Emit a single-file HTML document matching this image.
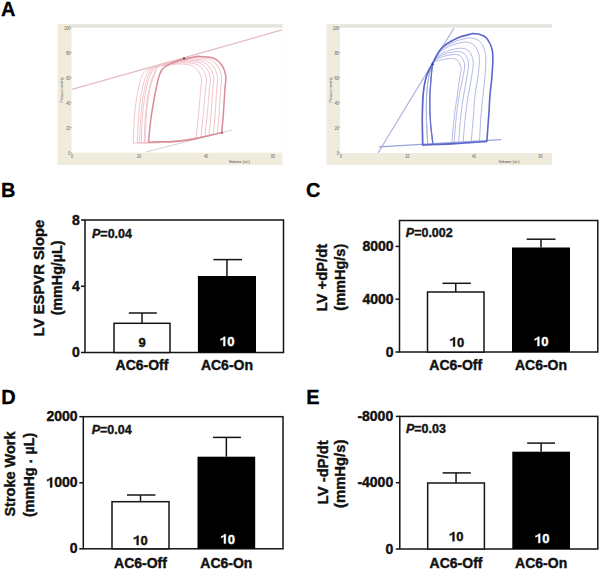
<!DOCTYPE html>
<html><head><meta charset="utf-8"><style>
html,body{margin:0;padding:0;background:#fff;}
svg{display:block;}
text{font-family:"Liberation Sans", sans-serif;}
</style></head><body>
<svg width="600" height="569" viewBox="0 0 600 569">
<rect width="600" height="569" fill="#fff"/>
<rect x="57.5" y="24" width="225.0" height="141" fill="#efecdd"/>
<rect x="71.5" y="24" width="211.0" height="3.5" fill="#e8e8e1"/>
<rect x="71.5" y="26.5" width="211.0" height="1" fill="#d9d9d1"/>
<rect x="71.5" y="27.5" width="211.0" height="125.19999999999999" fill="#fff"/>
<rect x="326.5" y="24" width="225.5" height="141" fill="#efecdd"/>
<rect x="340" y="24" width="212" height="3.5" fill="#e8e8e1"/>
<rect x="340" y="26.5" width="212" height="1" fill="#d9d9d1"/>
<rect x="340" y="27.5" width="212" height="125.5" fill="#fff"/>
<line x1="70.3" y1="27.6" x2="71.8" y2="27.6" stroke="#999" stroke-width="0.7"/>
<text x="70.2" y="29.6" font-size="5.6" text-anchor="end" fill="#5a5a55" textLength="6.0" lengthAdjust="spacingAndGlyphs">100</text>
<line x1="70.3" y1="52.6" x2="71.8" y2="52.6" stroke="#999" stroke-width="0.7"/>
<text x="70.2" y="54.6" font-size="5.6" text-anchor="end" fill="#5a5a55" textLength="4.0" lengthAdjust="spacingAndGlyphs">80</text>
<line x1="70.3" y1="77.6" x2="71.8" y2="77.6" stroke="#999" stroke-width="0.7"/>
<text x="70.2" y="79.6" font-size="5.6" text-anchor="end" fill="#5a5a55" textLength="4.0" lengthAdjust="spacingAndGlyphs">60</text>
<line x1="70.3" y1="102.6" x2="71.8" y2="102.6" stroke="#999" stroke-width="0.7"/>
<text x="70.2" y="104.6" font-size="5.6" text-anchor="end" fill="#5a5a55" textLength="4.0" lengthAdjust="spacingAndGlyphs">40</text>
<line x1="70.3" y1="127.6" x2="71.8" y2="127.6" stroke="#999" stroke-width="0.7"/>
<text x="70.2" y="129.6" font-size="5.6" text-anchor="end" fill="#5a5a55" textLength="4.0" lengthAdjust="spacingAndGlyphs">20</text>
<line x1="70.3" y1="152.6" x2="71.8" y2="152.6" stroke="#999" stroke-width="0.7"/>
<text x="70.2" y="154.6" font-size="5.6" text-anchor="end" fill="#5a5a55" textLength="2.0" lengthAdjust="spacingAndGlyphs">0</text>
<text x="72" y="158.0" font-size="5.6" text-anchor="middle" fill="#5a5a55" textLength="2.0" lengthAdjust="spacingAndGlyphs">0</text>
<text x="139" y="158.0" font-size="5.6" text-anchor="middle" fill="#5a5a55" textLength="4.0" lengthAdjust="spacingAndGlyphs">20</text>
<text x="206" y="158.0" font-size="5.6" text-anchor="middle" fill="#5a5a55" textLength="4.0" lengthAdjust="spacingAndGlyphs">40</text>
<text x="273" y="158.0" font-size="5.6" text-anchor="middle" fill="#5a5a55" textLength="4.0" lengthAdjust="spacingAndGlyphs">60</text>
<text transform="translate(62.5,90) rotate(-90)" font-size="3.8" text-anchor="middle" fill="#555" textLength="25" lengthAdjust="spacingAndGlyphs">Pressure mmHg</text>
<text x="239.2" y="163.3" font-size="4.2" text-anchor="middle" fill="#444" textLength="21" lengthAdjust="spacingAndGlyphs">Volume (uL)</text>
<line x1="338.8" y1="27.6" x2="340.3" y2="27.6" stroke="#999" stroke-width="0.7"/>
<text x="338.7" y="29.6" font-size="5.6" text-anchor="end" fill="#5a5a55" textLength="6.0" lengthAdjust="spacingAndGlyphs">100</text>
<line x1="338.8" y1="52.6" x2="340.3" y2="52.6" stroke="#999" stroke-width="0.7"/>
<text x="338.7" y="54.6" font-size="5.6" text-anchor="end" fill="#5a5a55" textLength="4.0" lengthAdjust="spacingAndGlyphs">80</text>
<line x1="338.8" y1="77.6" x2="340.3" y2="77.6" stroke="#999" stroke-width="0.7"/>
<text x="338.7" y="79.6" font-size="5.6" text-anchor="end" fill="#5a5a55" textLength="4.0" lengthAdjust="spacingAndGlyphs">60</text>
<line x1="338.8" y1="102.6" x2="340.3" y2="102.6" stroke="#999" stroke-width="0.7"/>
<text x="338.7" y="104.6" font-size="5.6" text-anchor="end" fill="#5a5a55" textLength="4.0" lengthAdjust="spacingAndGlyphs">40</text>
<line x1="338.8" y1="127.6" x2="340.3" y2="127.6" stroke="#999" stroke-width="0.7"/>
<text x="338.7" y="129.6" font-size="5.6" text-anchor="end" fill="#5a5a55" textLength="4.0" lengthAdjust="spacingAndGlyphs">20</text>
<line x1="338.8" y1="152.6" x2="340.3" y2="152.6" stroke="#999" stroke-width="0.7"/>
<text x="338.7" y="154.6" font-size="5.6" text-anchor="end" fill="#5a5a55" textLength="2.0" lengthAdjust="spacingAndGlyphs">0</text>
<text x="341" y="158.3" font-size="5.6" text-anchor="middle" fill="#5a5a55" textLength="2.0" lengthAdjust="spacingAndGlyphs">0</text>
<text x="407.5" y="158.3" font-size="5.6" text-anchor="middle" fill="#5a5a55" textLength="4.0" lengthAdjust="spacingAndGlyphs">20</text>
<text x="474" y="158.3" font-size="5.6" text-anchor="middle" fill="#5a5a55" textLength="4.0" lengthAdjust="spacingAndGlyphs">40</text>
<text x="540.5" y="158.3" font-size="5.6" text-anchor="middle" fill="#5a5a55" textLength="4.0" lengthAdjust="spacingAndGlyphs">60</text>
<text transform="translate(331.7,90) rotate(-90)" font-size="3.8" text-anchor="middle" fill="#555" textLength="25" lengthAdjust="spacingAndGlyphs">Pressure mmHg</text>
<text x="509" y="163.3" font-size="4.2" text-anchor="middle" fill="#444" textLength="21" lengthAdjust="spacingAndGlyphs">Volume (uL)</text>
<line x1="72" y1="89.4" x2="282" y2="29.9" stroke="#e2bcc1" stroke-width="1.2"/>
<line x1="146" y1="152" x2="232" y2="130" stroke="#dcccd0" stroke-width="1"/>
<line x1="378" y1="153" x2="454" y2="28" stroke="#aab0de" stroke-width="1.2"/>
<line x1="379" y1="146.8" x2="501" y2="139.6" stroke="#9aa2dc" stroke-width="1.3"/>
<g fill="none" stroke-linejoin="round" stroke-linecap="round">
<path d="M133.30,142.91 C143.75,142.73 154.22,143.13 164.64,142.36 C175.11,141.58 185.54,139.62 195.99,138.25 C196.74,131.50 197.59,124.55 198.24,118.00 C198.85,111.83 199.33,105.39 199.80,100.00 C200.18,95.60 200.52,91.64 200.84,88.00 C201.10,84.95 201.96,82.38 201.57,79.60 C201.16,76.67 199.97,73.27 198.25,70.88 C196.60,68.59 194.42,66.63 191.62,65.43 C188.12,63.93 182.78,64.34 178.37,63.80 C171.48,64.67 161.89,65.64 157.71,66.40 C155.87,66.73 155.08,67.02 153.76,67.34 C152.44,67.65 151.12,67.96 149.80,68.27 C148.37,69.25 146.71,70.17 145.50,71.21 C144.47,72.09 143.69,72.73 142.90,74.00 C141.72,75.90 140.83,78.75 139.90,82.00 C138.54,86.76 137.24,93.82 136.30,100.00 C135.32,106.47 134.70,113.10 134.20,120.00 C133.67,127.37 133.60,135.28 133.30,142.91 Z" stroke="#efc3c9" stroke-width="0.95"/>
<path d="M137.30,142.83 C147.89,142.58 158.52,142.98 169.08,142.07 C179.70,141.16 190.27,138.92 200.86,137.35 C201.59,130.90 202.41,124.34 203.04,118.00 C203.65,111.90 204.13,105.39 204.60,100.00 C204.98,95.60 205.32,91.72 205.64,88.00 C205.92,84.77 206.84,81.92 206.42,78.95 C206.00,75.88 204.77,72.38 202.99,69.90 C201.29,67.52 199.03,65.49 196.13,64.24 C192.51,62.68 186.99,63.11 182.42,62.55 C175.64,63.42 166.27,64.38 162.07,65.15 C160.16,65.50 159.31,65.81 157.93,66.14 C156.56,66.47 155.18,66.79 153.80,67.12 C152.37,68.10 150.67,68.87 149.50,70.06 C148.39,71.19 147.71,72.40 146.90,74.00 C145.80,76.15 144.83,78.75 143.90,82.00 C142.54,86.76 141.24,93.82 140.30,100.00 C139.32,106.47 138.70,113.10 138.20,120.00 C137.67,127.35 137.60,135.22 137.30,142.83 Z" stroke="#efc3c9" stroke-width="0.95"/>
<path d="M139.60,142.79 C150.47,142.47 161.38,142.85 172.22,141.82 C183.12,140.78 193.96,138.32 204.83,136.57 C205.53,130.38 206.32,124.14 206.94,118.00 C207.54,111.96 208.03,105.39 208.50,100.00 C208.88,95.60 209.21,91.79 209.54,88.00 C209.84,84.59 210.82,81.46 210.38,78.30 C209.94,75.09 208.67,71.49 206.83,68.92 C205.07,66.45 202.74,64.34 199.74,63.05 C196.01,61.44 190.30,61.88 185.58,61.30 C179.20,62.17 170.77,63.07 166.43,63.90 C164.14,64.34 162.98,64.75 161.26,65.18 C159.54,65.61 157.82,66.04 156.10,66.46 C154.67,67.44 152.95,68.15 151.80,69.40 C150.64,70.66 150.03,72.22 149.20,74.00 C148.14,76.27 147.13,78.75 146.20,82.00 C144.84,86.76 143.54,93.82 142.60,100.00 C141.62,106.47 141.00,113.11 140.50,120.00 C139.97,127.34 139.90,135.19 139.60,142.79 Z" stroke="#efc3c9" stroke-width="0.95"/>
<path d="M141.30,142.75 C152.56,142.36 163.86,142.72 175.08,141.56 C186.39,140.39 197.61,137.67 208.87,135.72 C209.48,129.81 210.17,123.93 210.71,118.00 C211.24,112.03 211.66,105.39 212.07,100.00 C212.40,95.60 212.68,91.85 212.97,88.00 C213.24,84.42 214.24,80.99 213.76,77.65 C213.28,74.31 211.99,70.60 210.09,67.93 C208.28,65.38 205.87,63.20 202.77,61.86 C198.92,60.20 193.03,60.65 188.16,60.05 C182.36,60.92 175.16,61.76 170.78,62.65 C168.08,63.20 166.45,63.76 164.29,64.31 C162.13,64.87 159.96,65.42 157.80,65.98 C156.37,66.95 154.64,67.62 153.50,68.91 C152.31,70.26 151.74,72.09 150.90,74.00 C149.87,76.34 148.83,78.75 147.90,82.00 C146.54,86.76 145.24,93.82 144.30,100.00 C143.32,106.47 142.70,113.11 142.20,120.00 C141.67,127.33 141.60,135.17 141.30,142.75 Z" stroke="#efc3c9" stroke-width="0.95"/>
<path d="M144.20,142.70 C155.72,142.19 167.28,142.50 178.75,141.19 C190.31,139.86 201.78,136.88 213.30,134.73 C213.82,129.15 214.42,123.68 214.87,118.00 C215.34,112.11 215.69,105.39 216.03,100.00 C216.32,95.60 216.55,91.91 216.81,88.00 C217.05,84.25 218.04,80.53 217.52,77.00 C217.00,73.52 215.70,69.71 213.74,66.95 C211.87,64.32 209.39,62.06 206.19,60.67 C202.22,58.95 196.14,59.42 191.12,58.80 C185.79,59.67 179.40,60.50 175.14,61.40 C172.24,62.01 170.32,62.65 167.92,63.27 C165.51,63.90 163.11,64.52 160.70,65.14 C159.27,66.12 157.52,66.72 156.40,68.08 C155.15,69.59 154.67,71.86 153.80,74.00 C152.80,76.45 151.73,78.75 150.80,82.00 C149.44,86.76 148.14,93.82 147.20,100.00 C146.22,106.47 145.60,113.11 145.10,120.00 C144.57,127.32 144.50,135.13 144.20,142.70 Z" stroke="#efc3c9" stroke-width="0.95"/>
<path d="M145.00,142.68 C157.04,142.09 169.14,142.39 181.13,140.92 C193.23,139.43 205.21,136.15 217.26,133.76 C217.76,128.51 218.34,123.43 218.77,118.00 C219.24,112.20 219.59,105.39 219.93,100.00 C220.22,95.60 220.45,91.97 220.71,88.00 C220.96,84.09 222.01,80.06 221.46,76.35 C220.92,72.73 219.59,68.82 217.57,65.97 C215.64,63.25 213.08,60.92 209.79,59.49 C205.69,57.71 199.43,58.20 194.26,57.55 C189.34,58.42 183.79,59.20 179.49,60.15 C176.11,60.89 173.49,61.74 170.50,62.53 C167.50,63.33 164.50,64.12 161.50,64.91 C160.07,65.89 158.32,66.48 157.20,67.85 C155.93,69.40 155.47,71.81 154.60,74.00 C153.61,76.48 152.53,78.75 151.60,82.00 C150.24,86.76 148.94,93.82 148.00,100.00 C147.02,106.47 146.40,113.12 145.90,120.00 C145.37,127.31 145.30,135.12 145.00,142.68 Z" stroke="#efc3c9" stroke-width="0.95"/>
<path d="M148.60,142.21 C160.77,141.61 173.01,141.99 185.11,140.42 C197.35,138.82 209.46,135.23 221.63,132.64 C222.11,127.76 222.65,123.14 223.07,118.00 C223.54,112.31 223.89,105.39 224.23,100.00 C224.52,95.60 224.75,92.02 225.01,88.00 C225.27,83.93 226.38,79.60 225.80,75.70 C225.24,71.94 223.88,67.93 221.80,64.99 C219.81,62.18 217.18,59.77 213.79,58.30 C209.57,56.47 203.13,56.97 197.80,56.30 C193.33,57.17 188.23,57.93 184.40,58.90 C181.46,59.64 179.20,60.40 176.70,61.30 C174.27,62.17 171.72,63.17 169.60,64.20 C167.78,65.09 166.09,65.89 164.70,67.00 C163.43,68.02 162.40,69.11 161.50,70.50 C160.48,72.08 159.78,74.09 159.10,76.10 C158.36,78.30 157.91,80.53 157.30,83.20 C156.52,86.63 155.64,91.13 154.90,95.00 C154.18,98.73 153.54,102.25 152.90,106.00 C152.24,109.91 151.55,113.99 151.00,118.00 C150.45,121.99 150.00,125.98 149.60,130.00 C149.20,134.05 148.93,138.14 148.60,142.21 Z" stroke="#db8a98" stroke-width="1.5"/>
<path d="M423.01,144.92 C427.81,144.79 432.61,144.80 437.41,144.54 C442.21,144.28 447.00,143.76 451.80,143.36 C452.70,133.91 453.49,123.62 454.50,115.00 C455.35,107.74 456.40,101.40 457.30,95.00 C458.13,89.10 458.96,82.55 459.70,78.00 C460.20,74.93 461.01,72.37 461.11,70.30 C461.18,68.91 461.06,67.95 460.83,66.80 C460.59,65.62 460.20,64.39 459.68,63.30 C459.17,62.24 458.58,61.09 457.77,60.35 C457.01,59.65 456.01,59.21 455.01,58.90 C453.98,58.58 452.78,58.63 451.67,58.50 C449.24,58.74 446.85,58.83 444.39,59.23 C441.80,59.66 438.65,60.16 436.53,61.02 C434.90,61.69 433.84,62.67 432.50,63.50 C430.60,67.60 428.24,71.33 426.79,75.80 C425.19,80.72 424.35,86.00 423.66,91.92 C422.82,99.03 422.76,107.30 422.63,115.62 C422.49,124.86 422.89,135.15 423.01,144.92 Z" stroke="#a2a8dc" stroke-width="0.8"/>
<path d="M427.75,144.66 C432.13,144.56 436.50,144.59 440.88,144.35 C445.25,144.12 449.62,143.61 454.00,143.24 C454.83,133.83 455.52,123.59 456.50,115.00 C457.33,107.75 458.22,101.38 459.30,95.00 C460.30,89.09 461.73,83.05 462.70,78.00 C463.47,73.96 464.57,69.77 464.70,67.07 C464.78,65.49 464.64,64.54 464.38,63.30 C464.11,62.04 463.67,60.72 463.08,59.55 C462.51,58.41 461.84,57.18 460.94,56.39 C460.08,55.63 458.95,55.16 457.84,54.83 C456.67,54.48 455.33,54.54 454.07,54.40 C451.34,54.85 448.63,55.01 445.88,55.74 C442.95,56.51 439.37,57.50 437.03,59.00 C435.11,60.22 434.01,62.00 432.50,63.50 C431.32,67.60 429.89,71.17 428.95,75.80 C427.78,81.57 427.03,88.65 426.60,95.55 C426.13,103.08 426.27,111.21 426.45,119.25 C426.64,127.58 427.32,136.19 427.75,144.66 Z" stroke="#a2a8dc" stroke-width="0.8"/>
<path d="M432.69,144.39 C437.00,144.30 441.30,144.33 445.60,144.10 C449.90,143.87 454.20,143.37 458.50,143.00 C459.33,133.67 460.04,123.54 461.00,115.00 C461.81,107.76 462.69,101.38 463.70,95.00 C464.64,89.09 465.94,83.23 466.80,78.00 C467.53,73.55 468.53,68.66 468.62,65.61 C468.68,63.84 468.56,62.78 468.27,61.39 C467.96,59.97 467.46,58.49 466.81,57.18 C466.17,55.90 465.42,54.52 464.40,53.63 C463.44,52.78 462.17,52.26 460.92,51.88 C459.62,51.49 458.11,51.56 456.70,51.40 C453.64,51.99 450.58,52.22 447.51,53.18 C444.20,54.20 440.18,55.58 437.58,57.51 C435.37,59.15 434.19,61.50 432.50,63.50 C432.07,67.60 431.61,71.04 431.21,75.80 C430.65,82.38 429.80,91.48 429.67,99.34 C429.54,107.23 429.90,115.36 430.43,123.04 C430.94,130.35 431.94,137.28 432.69,144.39 Z" stroke="#a2a8dc" stroke-width="0.8"/>
<path d="M422.81,144.93 C429.51,144.70 436.21,144.60 442.90,144.24 C449.61,143.88 456.30,143.25 463.00,142.76 C463.83,133.51 464.52,123.49 465.50,115.00 C466.33,107.78 467.27,101.39 468.30,95.00 C469.25,89.09 470.56,83.39 471.40,78.00 C472.16,73.15 473.14,67.54 473.22,64.12 C473.27,62.12 473.15,60.92 472.82,59.36 C472.48,57.76 471.92,56.09 471.18,54.62 C470.46,53.18 469.61,51.62 468.47,50.61 C467.38,49.66 465.95,49.07 464.54,48.64 C463.07,48.21 461.37,48.28 459.78,48.10 C456.33,48.85 452.86,49.16 449.42,50.36 C445.68,51.67 441.13,53.47 438.23,55.88 C435.69,57.98 434.41,60.96 432.50,63.50 C430.56,67.60 428.17,71.34 426.69,75.80 C425.08,80.68 424.24,85.88 423.53,91.76 C422.67,98.85 422.60,107.13 422.47,115.46 C422.31,124.74 422.69,135.10 422.81,144.93 Z" stroke="#a2a8dc" stroke-width="0.8"/>
<path d="M427.75,144.66 C434.99,144.40 442.24,144.28 449.48,143.89 C456.72,143.50 463.96,142.84 471.20,142.32 C471.97,133.21 472.83,123.40 473.50,115.00 C474.07,107.82 474.24,101.38 475.00,95.00 C475.71,89.09 477.06,83.72 477.80,78.00 C478.55,72.21 479.43,64.66 479.45,60.47 C479.46,58.12 479.36,56.78 478.98,54.98 C478.59,53.13 477.94,51.21 477.09,49.52 C476.26,47.85 475.28,46.06 473.96,44.90 C472.71,43.80 471.07,43.11 469.44,42.63 C467.74,42.12 465.78,42.21 463.95,42.00 C459.97,43.05 455.95,43.50 452.00,45.16 C447.65,46.99 442.42,49.60 439.11,52.86 C436.08,55.83 434.70,59.95 432.50,63.50 C431.32,67.60 429.89,71.17 428.95,75.80 C427.78,81.57 427.03,88.65 426.60,95.55 C426.13,103.08 426.27,111.21 426.45,119.25 C426.64,127.58 427.32,136.19 427.75,144.66 Z" stroke="#a2a8dc" stroke-width="0.8"/>
<path d="M432.90,144.38 C440.67,144.10 448.44,143.94 456.20,143.53 C463.97,143.11 471.73,142.42 479.50,141.87 C480.00,132.91 480.35,123.29 481.00,115.00 C481.56,107.84 482.34,101.40 483.00,95.00 C483.61,89.10 484.33,83.84 484.80,78.00 C485.30,71.82 485.93,63.52 485.86,58.89 C485.82,56.24 485.76,54.70 485.33,52.65 C484.89,50.55 484.15,48.37 483.18,46.44 C482.24,44.55 481.13,42.51 479.63,41.20 C478.20,39.94 476.33,39.16 474.48,38.61 C472.55,38.04 470.33,38.14 468.25,37.90 C463.72,39.15 459.14,39.69 454.67,41.66 C449.71,43.84 443.76,46.98 440.01,50.83 C436.54,54.38 435.00,59.28 432.50,63.50 C432.10,67.60 431.68,71.03 431.30,75.80 C430.77,82.41 429.92,91.60 429.80,99.50 C429.68,107.40 430.06,115.53 430.60,123.20 C431.12,130.47 432.13,137.32 432.90,144.38 Z" stroke="#a2a8dc" stroke-width="0.8"/>
<path d="M422.60,144.94 C433.30,144.50 444.00,144.18 454.70,143.61 C465.40,143.03 476.10,142.18 486.80,141.47 C487.47,132.65 488.24,123.21 488.80,115.00 C489.28,107.87 489.47,101.39 490.00,95.00 C490.49,89.10 491.33,83.95 491.80,78.00 C492.31,71.46 492.94,62.42 492.86,57.34 C492.81,54.37 492.75,52.61 492.26,50.29 C491.76,47.91 490.92,45.44 489.83,43.26 C488.76,41.12 487.50,38.82 485.81,37.33 C484.19,35.91 482.08,35.03 479.99,34.41 C477.81,33.76 475.29,33.87 472.94,33.60 C467.82,35.07 462.63,35.70 457.57,38.00 C451.96,40.54 445.23,44.23 440.99,48.70 C437.05,52.85 435.33,58.57 432.50,63.50 C430.53,67.60 428.09,71.34 426.60,75.80 C424.98,80.64 424.12,85.77 423.40,91.60 C422.52,98.67 422.45,106.96 422.30,115.30 C422.13,124.63 422.50,135.06 422.60,144.94 Z" stroke="#5a66cc" stroke-width="1.6"/>
<path d="M432.50,63.50 C432.10,67.60 431.68,71.03 431.30,75.80 C430.77,82.41 429.92,91.60 429.80,99.50 C429.68,107.40 430.04,115.67 430.60,123.20 C431.12,130.11 432.13,136.40 432.90,143.00" stroke="#6470cc" stroke-width="1.3"/>
</g>
<circle cx="184" cy="58.4" r="1.1" fill="#7a3848"/>
<circle cx="222.2" cy="132.8" r="1.0" fill="#8a4858"/>
<circle cx="432.6" cy="64.3" r="1.2" fill="#2a3cb8"/>
<text x="1" y="16" font-size="20" font-weight="bold" text-anchor="start" fill="#000" stroke="#000" stroke-width="0.3" >A</text>
<text x="1" y="197" font-size="20" font-weight="bold" text-anchor="start" fill="#000" stroke="#000" stroke-width="0.3" >B</text>
<text x="306" y="197.1" font-size="20" font-weight="bold" text-anchor="start" fill="#000" stroke="#000" stroke-width="0.3" >C</text>
<text x="1.3" y="404" font-size="20" font-weight="bold" text-anchor="start" fill="#000" stroke="#000" stroke-width="0.3" >D</text>
<text x="306.2" y="404.2" font-size="20" font-weight="bold" text-anchor="start" fill="#000" stroke="#000" stroke-width="0.3" >E</text>
<rect x="85" y="220" width="198.5" height="132.5" fill="none" stroke="#151515" stroke-width="1.5"/>
<line x1="81" y1="220" x2="85" y2="220" stroke="#151515" stroke-width="1.5"/>
<text x="79.8" y="224.6" font-size="14" font-weight="bold" text-anchor="end" fill="#111" stroke="#111" stroke-width="0.4" >8</text>
<line x1="81" y1="286.25" x2="85" y2="286.25" stroke="#151515" stroke-width="1.5"/>
<text x="79.8" y="290.85" font-size="14" font-weight="bold" text-anchor="end" fill="#111" stroke="#111" stroke-width="0.4" >4</text>
<line x1="81" y1="352.5" x2="85" y2="352.5" stroke="#151515" stroke-width="1.5"/>
<text x="79.8" y="357.1" font-size="14" font-weight="bold" text-anchor="end" fill="#111" stroke="#111" stroke-width="0.4" >0</text>
<line x1="142.0" y1="323.3" x2="142.0" y2="313" stroke="#151515" stroke-width="1.5"/>
<line x1="128.8" y1="313" x2="156.8" y2="313" stroke="#151515" stroke-width="1.5"/>
<rect x="114" y="323.3" width="56" height="29.19999999999999" fill="#fff" stroke="#151515" stroke-width="1.5"/>
<text x="138.39" y="346.5" font-size="13" font-weight="bold" fill="#111" stroke="#111" stroke-width="0.4">9</text>
<text x="142.0" y="370.3" font-size="14" font-weight="bold" text-anchor="middle" fill="#111" stroke="#111" stroke-width="0.4" >AC6-Off</text>
<line x1="226.95" y1="276" x2="226.95" y2="259.6" stroke="#151515" stroke-width="1.5"/>
<line x1="213.4" y1="259.6" x2="242" y2="259.6" stroke="#151515" stroke-width="1.5"/>
<rect x="197.9" y="276" width="58.099999999999994" height="76.5" fill="#000"/>
<path transform="translate(219.92,346.1) scale(13)" d="M0.265,0 L0.405,0 L0.405,-0.716 L0.292,-0.716 C0.268,-0.640 0.180,-0.585 0.045,-0.560 L0.045,-0.440 C0.140,-0.470 0.215,-0.510 0.265,-0.560 Z" fill="#fff" stroke="#fff" stroke-width="0.0308"/>
<text x="227.15" y="346.1" font-size="13" font-weight="bold" fill="#fff" stroke="#fff" stroke-width="0.4">0</text>
<text x="226.95" y="370.3" font-size="14" font-weight="bold" text-anchor="middle" fill="#111" stroke="#111" stroke-width="0.4" >AC6-On</text>
<text x="92" y="237.7" font-size="12.5" font-weight="bold" fill="#151515" stroke="#151515" stroke-width="0.4"><tspan font-style="italic">P</tspan>=0.04</text>
<text transform="translate(43.9,278) rotate(-90)" x="0" y="0" font-size="14.8" font-weight="bold" text-anchor="middle" fill="#111" stroke="#111" stroke-width="0.4">LV ESPVR Slope</text>
<text transform="translate(61.5,277.9) rotate(-90)" x="0" y="0" font-size="14.3" font-weight="bold" text-anchor="middle" fill="#111" stroke="#111" stroke-width="0.4">(mmHg/&#181;L)</text>
<rect x="399.5" y="220.5" width="198.29999999999995" height="131.5" fill="none" stroke="#151515" stroke-width="1.5"/>
<line x1="395.5" y1="246.4" x2="399.5" y2="246.4" stroke="#151515" stroke-width="1.5"/>
<text x="393.6" y="251.0" font-size="14" font-weight="bold" text-anchor="end" fill="#111" stroke="#111" stroke-width="0.4" >8000</text>
<line x1="395.5" y1="299.2" x2="399.5" y2="299.2" stroke="#151515" stroke-width="1.5"/>
<text x="393.6" y="303.8" font-size="14" font-weight="bold" text-anchor="end" fill="#111" stroke="#111" stroke-width="0.4" >4000</text>
<line x1="395.5" y1="352" x2="399.5" y2="352" stroke="#151515" stroke-width="1.5"/>
<text x="393.6" y="356.6" font-size="14" font-weight="bold" text-anchor="end" fill="#111" stroke="#111" stroke-width="0.4" >0</text>
<line x1="455.75" y1="292" x2="455.75" y2="283.3" stroke="#151515" stroke-width="1.5"/>
<line x1="442.5" y1="283.3" x2="470.8" y2="283.3" stroke="#151515" stroke-width="1.5"/>
<rect x="427.5" y="292" width="56.5" height="60" fill="#fff" stroke="#151515" stroke-width="1.5"/>
<path transform="translate(449.72,346.6) scale(13)" d="M0.265,0 L0.405,0 L0.405,-0.716 L0.292,-0.716 C0.268,-0.640 0.180,-0.585 0.045,-0.560 L0.045,-0.440 C0.140,-0.470 0.215,-0.510 0.265,-0.560 Z" fill="#111" stroke="#111" stroke-width="0.0308"/>
<text x="456.95" y="346.6" font-size="13" font-weight="bold" fill="#111" stroke="#111" stroke-width="0.4">0</text>
<text x="455.75" y="370.2" font-size="14" font-weight="bold" text-anchor="middle" fill="#111" stroke="#111" stroke-width="0.4" >AC6-Off</text>
<line x1="541.0" y1="247.5" x2="541.0" y2="239.2" stroke="#151515" stroke-width="1.5"/>
<line x1="526.7" y1="239.2" x2="555.5" y2="239.2" stroke="#151515" stroke-width="1.5"/>
<rect x="512" y="247.5" width="58" height="104.5" fill="#000"/>
<path transform="translate(534.07,346.1) scale(13)" d="M0.265,0 L0.405,0 L0.405,-0.716 L0.292,-0.716 C0.268,-0.640 0.180,-0.585 0.045,-0.560 L0.045,-0.440 C0.140,-0.470 0.215,-0.510 0.265,-0.560 Z" fill="#fff" stroke="#fff" stroke-width="0.0308"/>
<text x="541.30" y="346.1" font-size="13" font-weight="bold" fill="#fff" stroke="#fff" stroke-width="0.4">0</text>
<text x="541.0" y="370.2" font-size="14" font-weight="bold" text-anchor="middle" fill="#111" stroke="#111" stroke-width="0.4" >AC6-On</text>
<text x="405.8" y="236.7" font-size="12.5" font-weight="bold" fill="#151515" stroke="#151515" stroke-width="0.4"><tspan font-style="italic">P</tspan>=0.002</text>
<text transform="translate(327.4,277.6) rotate(-90)" x="0" y="0" font-size="14.8" font-weight="bold" text-anchor="middle" fill="#111" stroke="#111" stroke-width="0.4">LV +dP/dt</text>
<text transform="translate(344.5,277.2) rotate(-90)" x="0" y="0" font-size="14.5" font-weight="bold" text-anchor="middle" fill="#111" stroke="#111" stroke-width="0.4">(mmHg/s)</text>
<rect x="83.3" y="416.7" width="199.7" height="132.09999999999997" fill="none" stroke="#151515" stroke-width="1.5"/>
<line x1="79.3" y1="416.7" x2="83.3" y2="416.7" stroke="#151515" stroke-width="1.5"/>
<text x="77.6" y="421.3" font-size="14" font-weight="bold" text-anchor="end" fill="#111" stroke="#111" stroke-width="0.4" >2000</text>
<line x1="79.3" y1="482.8" x2="83.3" y2="482.8" stroke="#151515" stroke-width="1.5"/>
<path transform="translate(46.46,487.40000000000003) scale(14)" d="M0.265,0 L0.405,0 L0.405,-0.716 L0.292,-0.716 C0.268,-0.640 0.180,-0.585 0.045,-0.560 L0.045,-0.440 C0.140,-0.470 0.215,-0.510 0.265,-0.560 Z" fill="#111" stroke="#111" stroke-width="0.0286"/>
<text x="54.25" y="487.40000000000003" font-size="14" font-weight="bold" fill="#111" stroke="#111" stroke-width="0.4">0</text>
<text x="62.03" y="487.40000000000003" font-size="14" font-weight="bold" fill="#111" stroke="#111" stroke-width="0.4">0</text>
<text x="69.82" y="487.40000000000003" font-size="14" font-weight="bold" fill="#111" stroke="#111" stroke-width="0.4">0</text>
<line x1="79.3" y1="548.8" x2="83.3" y2="548.8" stroke="#151515" stroke-width="1.5"/>
<text x="77.6" y="553.4" font-size="14" font-weight="bold" text-anchor="end" fill="#111" stroke="#111" stroke-width="0.4" >0</text>
<line x1="140.5" y1="501.7" x2="140.5" y2="495" stroke="#151515" stroke-width="1.5"/>
<line x1="127" y1="495" x2="155.4" y2="495" stroke="#151515" stroke-width="1.5"/>
<rect x="112" y="501.7" width="57" height="47.099999999999966" fill="#fff" stroke="#151515" stroke-width="1.5"/>
<path transform="translate(133.27,545) scale(13)" d="M0.265,0 L0.405,0 L0.405,-0.716 L0.292,-0.716 C0.268,-0.640 0.180,-0.585 0.045,-0.560 L0.045,-0.440 C0.140,-0.470 0.215,-0.510 0.265,-0.560 Z" fill="#111" stroke="#111" stroke-width="0.0308"/>
<text x="140.50" y="545" font-size="13" font-weight="bold" fill="#111" stroke="#111" stroke-width="0.4">0</text>
<text x="140.5" y="567.6" font-size="14" font-weight="bold" text-anchor="middle" fill="#111" stroke="#111" stroke-width="0.4" >AC6-Off</text>
<line x1="226.35" y1="456.7" x2="226.35" y2="437.4" stroke="#151515" stroke-width="1.5"/>
<line x1="213" y1="437.4" x2="241" y2="437.4" stroke="#151515" stroke-width="1.5"/>
<rect x="197.5" y="456.7" width="57.69999999999999" height="92.09999999999997" fill="#000"/>
<path transform="translate(220.52,543.6) scale(13)" d="M0.265,0 L0.405,0 L0.405,-0.716 L0.292,-0.716 C0.268,-0.640 0.180,-0.585 0.045,-0.560 L0.045,-0.440 C0.140,-0.470 0.215,-0.510 0.265,-0.560 Z" fill="#fff" stroke="#fff" stroke-width="0.0308"/>
<text x="227.75" y="543.6" font-size="13" font-weight="bold" fill="#fff" stroke="#fff" stroke-width="0.4">0</text>
<text x="226.35" y="567.6" font-size="14" font-weight="bold" text-anchor="middle" fill="#111" stroke="#111" stroke-width="0.4" >AC6-On</text>
<text x="91.7" y="433.7" font-size="12.5" font-weight="bold" fill="#151515" stroke="#151515" stroke-width="0.4"><tspan font-style="italic">P</tspan>=0.04</text>
<text transform="translate(14.9,474) rotate(-90)" x="0" y="0" font-size="14.5" font-weight="bold" text-anchor="middle" fill="#111" stroke="#111" stroke-width="0.4">Stroke Work</text>
<text transform="translate(33.6,474.8) rotate(-90)" x="0" y="0" font-size="14.4" font-weight="bold" text-anchor="middle" fill="#111" stroke="#111" stroke-width="0.4">(mmHg <tspan dy="2.2">&#183;</tspan><tspan dy="-2.2"> &#181;L)</tspan></text>
<rect x="399.8" y="416.4" width="197.99999999999994" height="132.60000000000002" fill="none" stroke="#151515" stroke-width="1.5"/>
<line x1="395.8" y1="416.4" x2="399.8" y2="416.4" stroke="#151515" stroke-width="1.5"/>
<text x="393.2" y="421.0" font-size="14" font-weight="bold" text-anchor="end" fill="#111" stroke="#111" stroke-width="0.4" >-8000</text>
<line x1="395.8" y1="482.7" x2="399.8" y2="482.7" stroke="#151515" stroke-width="1.5"/>
<text x="393.2" y="487.3" font-size="14" font-weight="bold" text-anchor="end" fill="#111" stroke="#111" stroke-width="0.4" >-4000</text>
<line x1="395.8" y1="549" x2="399.8" y2="549" stroke="#151515" stroke-width="1.5"/>
<text x="393.2" y="553.6" font-size="14" font-weight="bold" text-anchor="end" fill="#111" stroke="#111" stroke-width="0.4" >0</text>
<line x1="456.04999999999995" y1="483" x2="456.04999999999995" y2="472.9" stroke="#151515" stroke-width="1.5"/>
<line x1="442.6" y1="472.9" x2="470.8" y2="472.9" stroke="#151515" stroke-width="1.5"/>
<rect x="427.7" y="483" width="56.69999999999999" height="66" fill="#fff" stroke="#151515" stroke-width="1.5"/>
<path transform="translate(449.12,541.3) scale(13)" d="M0.265,0 L0.405,0 L0.405,-0.716 L0.292,-0.716 C0.268,-0.640 0.180,-0.585 0.045,-0.560 L0.045,-0.440 C0.140,-0.470 0.215,-0.510 0.265,-0.560 Z" fill="#111" stroke="#111" stroke-width="0.0308"/>
<text x="456.35" y="541.3" font-size="13" font-weight="bold" fill="#111" stroke="#111" stroke-width="0.4">0</text>
<text x="456.04999999999995" y="567.6" font-size="14" font-weight="bold" text-anchor="middle" fill="#111" stroke="#111" stroke-width="0.4" >AC6-Off</text>
<line x1="541.15" y1="451.7" x2="541.15" y2="443.1" stroke="#151515" stroke-width="1.5"/>
<line x1="527.2" y1="443.1" x2="555" y2="443.1" stroke="#151515" stroke-width="1.5"/>
<rect x="512.3" y="451.7" width="57.700000000000045" height="97.30000000000001" fill="#000"/>
<path transform="translate(534.92,543) scale(13)" d="M0.265,0 L0.405,0 L0.405,-0.716 L0.292,-0.716 C0.268,-0.640 0.180,-0.585 0.045,-0.560 L0.045,-0.440 C0.140,-0.470 0.215,-0.510 0.265,-0.560 Z" fill="#fff" stroke="#fff" stroke-width="0.0308"/>
<text x="542.15" y="543" font-size="13" font-weight="bold" fill="#fff" stroke="#fff" stroke-width="0.4">0</text>
<text x="541.15" y="567.6" font-size="14" font-weight="bold" text-anchor="middle" fill="#111" stroke="#111" stroke-width="0.4" >AC6-On</text>
<text x="405.9" y="433" font-size="12.5" font-weight="bold" fill="#151515" stroke="#151515" stroke-width="0.4"><tspan font-style="italic">P</tspan>=0.03</text>
<text transform="translate(327.6,472.3) rotate(-90)" x="0" y="0" font-size="14.8" font-weight="bold" text-anchor="middle" fill="#111" stroke="#111" stroke-width="0.4">LV -dP/dt</text>
<text transform="translate(344.6,473.8) rotate(-90)" x="0" y="0" font-size="14.8" font-weight="bold" text-anchor="middle" fill="#111" stroke="#111" stroke-width="0.4">(mmHg/s)</text>
</svg></body></html>
